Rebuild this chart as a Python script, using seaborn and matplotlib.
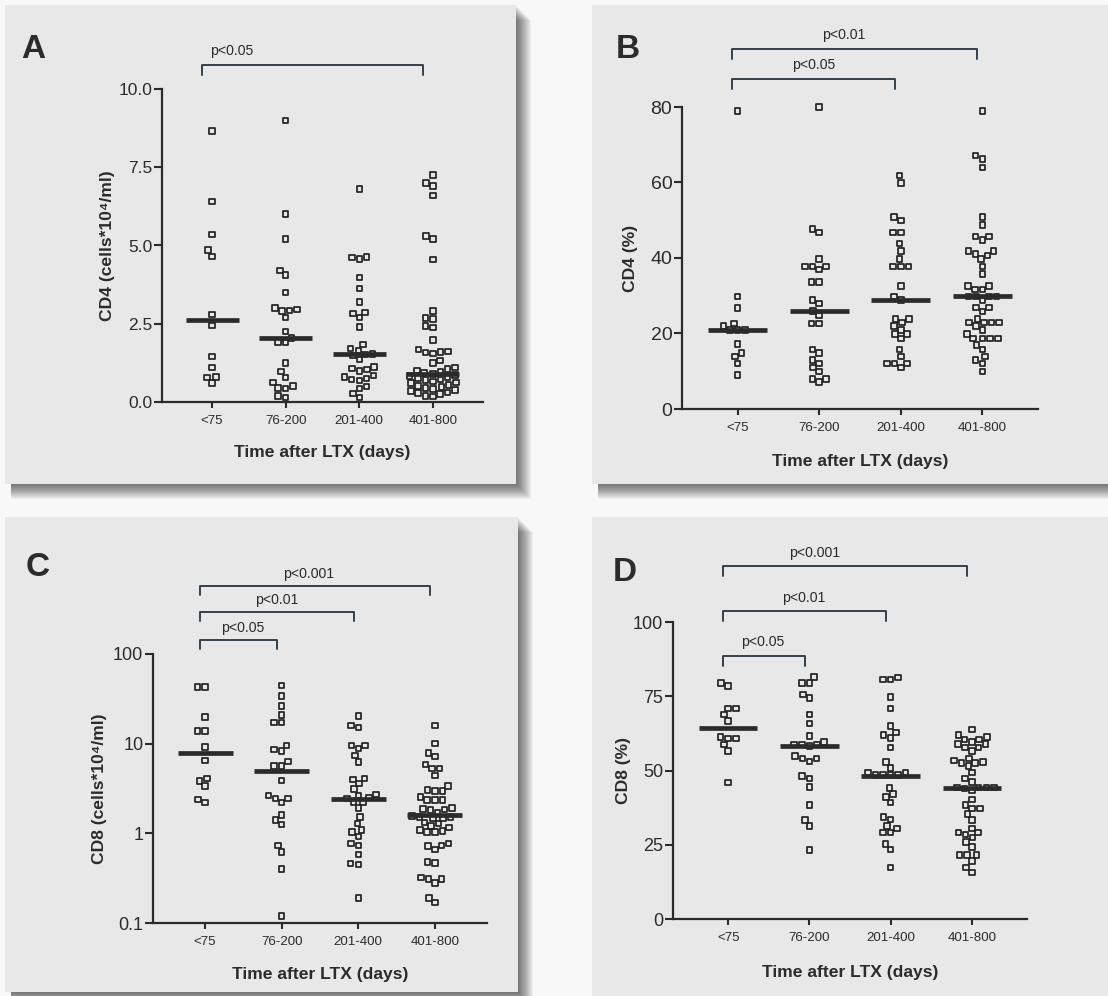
import numpy as np
import pandas as pd
import seaborn as sns
import matplotlib.pyplot as plt
from matplotlib import font_manager
from matplotlib.patches import Rectangle

groups = ['<75', '76-200', '201-400', '401-800']

# A: CD4 (cells*10^4/ml)
cd4_abs_lt75 = [8.65, 6.4, 5.35, 4.85, 4.65, 2.8, 2.45, 1.45, 1.1, 0.8, 0.78, 0.6]
cd4_abs_76_200 = [9.0, 6.0, 5.2, 4.2, 4.05, 3.5, 3.0, 2.95, 2.93, 2.9, 2.7, 2.25, 2.05, 1.92,
                  1.9, 1.25, 0.97, 0.78, 0.62, 0.52, 0.45, 0.43, 0.2, 0.15]
cd4_abs_201_400 = [6.8, 4.64, 4.62, 4.56, 3.98, 3.62, 3.2, 2.86, 2.83, 2.7, 2.4, 1.84, 1.71, 1.65,
                   1.53, 1.52, 1.49, 1.36, 1.12, 1.07, 1.04, 0.99, 0.85, 0.8, 0.75, 0.72, 0.69,
                   0.5, 0.43, 0.27, 0.14]
cd4_abs_401_800 = [7.25, 7.0, 6.9, 6.6, 5.3, 5.2, 4.55, 2.9, 2.68, 2.65, 2.42, 2.38, 1.98, 1.68,
                   1.62, 1.6, 1.58, 1.55, 1.32, 1.25, 1.1, 1.05, 1.0, 0.96, 0.93, 0.9, 0.86, 0.83,
                   0.8, 0.76, 0.72, 0.7, 0.66, 0.62, 0.6, 0.55, 0.52, 0.48, 0.45, 0.42, 0.38, 0.35,
                   0.3, 0.28, 0.25, 0.2, 0.17]
cd4_abs_medians = [2.63, 2.06, 1.52, 0.88]

# B: CD4 (%)
cd4_pct_lt75 = [79, 29.8, 26.7, 22.7, 22.0, 21.0, 21.0, 21.0, 17.2, 14.9, 13.9, 12.1, 9.0]
cd4_pct_76_200 = [80, 47.7, 46.8, 39.7, 37.8, 37.8, 37.8, 36.9, 33.6, 33.6, 28.9, 27.9, 26.0,
                  24.8, 22.7, 22.7, 15.8, 14.9, 13.0, 12.1, 11.0, 9.9, 8.0, 8.0, 7.1]
cd4_pct_201_400 = [61.8, 59.9, 50.8, 49.9, 46.8, 46.8, 43.8, 41.9, 39.7, 37.8, 37.8, 37.8, 32.6,
                   29.8, 28.9, 23.9, 23.9, 22.9, 22.0, 21.0, 19.9, 19.9, 18.7, 15.8, 13.9, 12.1,
                   12.1, 12.1, 11.0]
cd4_pct_401_800 = [79.0, 67.1, 66.2, 64.0, 50.8, 48.8, 45.7, 45.7, 44.8, 41.9, 41.9, 41.0, 40.7,
                   39.7, 37.8, 35.7, 32.6, 32.6, 31.7, 31.7, 29.8, 29.8, 29.8, 29.8, 28.7, 26.9,
                   26.9, 25.8, 23.9, 22.9, 22.9, 22.9, 22.9, 22.0, 21.0, 19.9, 18.7, 18.7, 18.7,
                   18.7, 17.0, 15.8, 13.9, 13.0, 12.1, 9.9]
cd4_pct_medians = [21, 26, 29, 30]

# C: CD8 (cells*10^4/ml), log axis
cd8_abs_lt75 = [42.9, 42.9, 19.7, 13.8, 13.8, 9.2, 6.5, 4.07, 3.84, 3.37, 2.39, 2.2]
cd8_abs_76_200 = [44.7, 34.0, 26.3, 20.9, 17.2, 17.2, 9.58, 8.65, 8.28, 6.3, 5.63, 5.63, 3.9,
                  2.65, 2.44, 2.44, 2.2, 1.59, 1.4, 1.26, 0.73, 0.62, 0.4, 0.12]
cd8_abs_201_400 = [20.4, 16.0, 15.1, 9.58, 9.58, 8.79, 7.41, 6.25, 4.07, 3.99, 3.58, 3.1, 2.72,
                   2.65, 2.5, 2.44, 2.24, 2.24, 1.93, 1.53, 1.28, 1.09, 1.03, 0.92, 0.77, 0.73,
                   0.58, 0.46, 0.45, 0.19]
cd8_abs_401_800 = [16.0, 10.0, 7.9, 7.16, 5.88, 5.26, 5.26, 4.43, 3.37, 3.04, 2.96, 2.96, 2.56,
                   2.35, 2.35, 2.35, 1.93, 1.88, 1.85, 1.82, 1.7, 1.56, 1.53, 1.53, 1.49, 1.46,
                   1.32, 1.28, 1.21, 1.16, 1.09, 1.06, 1.03, 1.03, 0.77, 0.73, 0.72, 0.66, 0.48,
                   0.47, 0.32, 0.31, 0.31, 0.28, 0.19, 0.17]
cd8_abs_medians = [7.9, 4.96, 2.39, 1.59]

# D: CD8 (%)
cd8_pct_lt75 = [79.5, 78.5, 70.9, 70.9, 68.8, 66.7, 61.3, 60.8, 60.8, 58.7, 56.6, 46.0]
cd8_pct_76_200 = [81.5, 79.5, 79.5, 75.6, 74.4, 68.8, 65.8, 61.7, 59.6, 58.7, 58.7, 58.7, 58.3,
                  54.8, 54.0, 54.0, 53.1, 48.1, 47.3, 44.5, 38.3, 33.3, 31.3, 23.2]
cd8_pct_201_400 = [81.3, 80.6, 80.6, 74.8, 70.9, 65.0, 62.8, 61.9, 61.0, 57.7, 52.9, 50.9, 49.3,
                   49.3, 48.4, 48.4, 48.4, 48.4, 44.2, 42.0, 41.1, 39.2, 34.4, 33.5, 31.3, 30.5,
                   29.1, 29.1, 25.2, 23.4, 17.3]
cd8_pct_401_800 = [63.8, 61.9, 61.3, 60.4, 60.4, 59.6, 58.9, 58.9, 57.7, 57.7, 56.6, 54.0, 53.3,
                   52.9, 52.6, 52.6, 51.5, 49.3, 47.3, 46.2, 44.3, 44.3, 44.3, 44.3, 43.9, 43.2,
                   40.2, 38.3, 37.2, 37.2, 35.3, 33.3, 30.5, 29.1, 29.1, 28.5, 27.4, 26.0, 24.3,
                   21.5, 21.5, 21.5, 19.6, 17.3, 15.7]
cd8_pct_medians = [64.3, 58.2, 48.3, 44.1]

# significance brackets: (group i, group j, label, height in axes fraction, label x)
brackets_a = [(0, 3, 'p<0.05', 1.077, 0.27)]
brackets_b = [(0, 3, 'p<0.01', 1.192, 1.30), (0, 2, 'p<0.05', 1.093, 0.93)]
brackets_c = [(0, 3, 'p<0.001', 1.253, 1.35), (0, 2, 'p<0.01', 1.156, 0.94),
              (0, 1, 'p<0.05', 1.052, 0.49)]
brackets_d = [(0, 3, 'p<0.001', 1.189, 1.06), (0, 2, 'p<0.01', 1.037, 0.93),
              (0, 1, 'p<0.05', 0.886, 0.43)]

sns.set_theme(style='ticks')
plt.rcParams['font.family'] = ['Liberation Sans', 'DejaVu Sans']

installed = {f.name for f in font_manager.fontManager.ttflist}
if 'Liberation Sans Narrow' in installed:
    narrow, shrink = ['Liberation Sans Narrow', 'Liberation Sans', 'DejaVu Sans'], 1.0
else:
    narrow, shrink = ['Liberation Sans', 'DejaVu Sans'], 0.84

ink = '#2b2b2b'
dot_ink = '#222222'
W, H = 1108, 996

fig = plt.figure(figsize=(W / 100, H / 100), dpi=100, facecolor='#f8f8f8')


def px_box(l, t, r, b):
    return [l / W, 1 - b / H, (r - l) / W, (b - t) / H]


def add_card(l, t, r, b):
    for k in range(1, 16):
        fig.add_artist(Rectangle(((l + 6) / W, 1 - (b + k) / H), (r + k - l - 6) / W, (b - t) / H,
                                 transform=fig.transFigure, color='black', alpha=0.045,
                                 lw=0, zorder=-6))
    fig.add_artist(Rectangle((l / W, 1 - b / H), (r - l) / W, (b - t) / H,
                             transform=fig.transFigure, color='#e8e8e8', lw=0, zorder=-5))


def to_frame(cols):
    rows = []
    for g, vals in zip(groups, cols):
        rows += [(g, v) for v in vals]
    return pd.DataFrame(rows, columns=['group', 'value'])


def draw_panel(box, cols, medians, ylabel, ylim, yticks, yticklabels, tick_size, brackets,
               shift, ylabel_x, xlabel_y, log=False):
    ax = fig.add_axes(px_box(*box))
    ax.set_facecolor('none')
    if log:
        ax.set_yscale('log')
    ax.set_ylim(*ylim)
    sns.swarmplot(data=to_frame(cols), x='group', y='value', order=groups, ax=ax,
                  marker='s', size=4.0, color=dot_ink, edgecolor=dot_ink, linewidth=1.25,
                  warn_thresh=1)
    for c in ax.collections:
        c.set_facecolor('none')
        c.set_clip_on(False)
    pos = np.arange(len(groups))
    ax.hlines(medians, pos - 0.36, pos + 0.36, color=ink, lw=3.4, zorder=4)

    ax.set_xlim(-0.68, 3.68)
    ax.set_ylim(*ylim)
    ax.set_yticks(yticks)
    ax.set_yticklabels(yticklabels, fontsize=tick_size, color=ink)
    ax.minorticks_off()
    ax.set_xticks(pos)
    ax.set_xticklabels(groups, family=narrow, fontsize=11.5 * shrink, color=ink)
    ax.tick_params(axis='y', length=6, width=1.5, pad=1, color=ink)
    ax.tick_params(axis='x', length=4.5, width=1.5, pad=5, color=ink)
    for side in ['top', 'right']:
        ax.spines[side].set_visible(False)
    for side in ['left', 'bottom']:
        ax.spines[side].set_color(ink)
        ax.spines[side].set_linewidth(1.6)

    ax.set_xlabel('Time after LTX (days)', family=narrow, fontsize=15 * shrink,
                  fontweight='bold', color=ink, va='center')
    ax.xaxis.set_label_coords(0.5, xlabel_y)
    ax.set_ylabel(ylabel, family=narrow, fontsize=15 * shrink, fontweight='bold',
                  color=ink, va='center')
    ax.yaxis.set_label_coords(ylabel_x, 0.5)

    tr = ax.get_xaxis_transform()
    for i, j, label, y, tx in brackets:
        xs = [i + shift, i + shift, j + shift, j + shift]
        ys = [y - 0.033, y, y, y - 0.033]
        ax.plot(xs, ys, transform=tr, color='#36404a', lw=1.4, clip_on=False)
        ax.text(tx, y + 0.045, label, transform=tr, ha='center', va='center',
                family=narrow, fontsize=12 * shrink, color=ink)
    return ax


add_card(5, 5, 516, 484)
add_card(592, 5, 1108, 484)
add_card(5, 517, 518, 992)
add_card(592, 517, 1108, 996)

draw_panel((162, 89, 483, 402),
           [cd4_abs_lt75, cd4_abs_76_200, cd4_abs_201_400, cd4_abs_401_800],
           cd4_abs_medians, 'CD4 (cells*10\u2074/ml)', (0, 10),
           [0, 2.5, 5, 7.5, 10], ['0.0', '2.5', '5.0', '7.5', '10.0'], 12.5,
           brackets_a, -0.13, -0.171, -0.16)

draw_panel((682, 107, 1038, 409),
           [cd4_pct_lt75, cd4_pct_76_200, cd4_pct_201_400, cd4_pct_401_800],
           cd4_pct_medians, 'CD4 (%)', (0, 80),
           [0, 20, 40, 60, 80], ['0', '20', '40', '60', '80'], 14,
           brackets_b, -0.07, -0.145, -0.175)

draw_panel((153, 654, 487, 923),
           [cd8_abs_lt75, cd8_abs_76_200, cd8_abs_201_400, cd8_abs_401_800],
           cd8_abs_medians, 'CD8 (cells*10\u2074/ml)', (0.1, 100),
           [0.1, 1, 10, 100], ['0.1', '1', '10', '100'], 13,
           brackets_c, -0.06, -0.159, -0.19, log=True)

draw_panel((673, 622, 1027, 919),
           [cd8_pct_lt75, cd8_pct_76_200, cd8_pct_201_400, cd8_pct_401_800],
           cd8_pct_medians, 'CD8 (%)', (0, 100),
           [0, 25, 50, 75, 100], ['0', '25', '50', '75', '100'], 13,
           brackets_d, -0.06, -0.14, -0.18)

for letter, x, y in [('A', 33, 50), ('B', 628, 50), ('C', 38, 567), ('D', 625, 572)]:
    fig.text(x / W, 1 - y / H, letter, ha='center', va='center', fontsize=24,
             fontweight='bold', color=ink)

fig.savefig('out.png', dpi=100, facecolor=fig.get_facecolor())
